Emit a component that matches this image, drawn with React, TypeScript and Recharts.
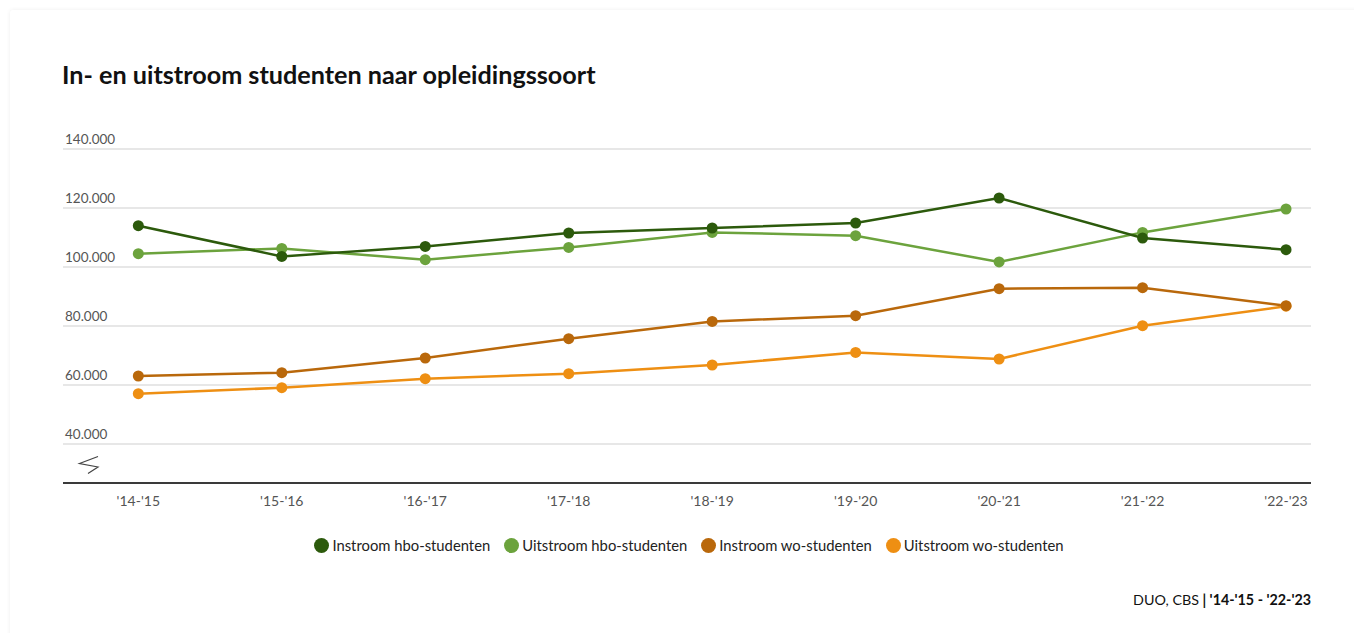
import React from "react";
import {
  LineChart,
  Line,
  XAxis,
  YAxis,
  CartesianGrid,
  Legend,
} from "recharts";

const categories = ["'14-'15", "'15-'16", "'16-'17", "'17-'18", "'18-'19", "'19-'20", "'20-'21", "'21-'22", "'22-'23"];
const instroomHbo = [114000, 103600, 106980, 111530, 113220, 114920, 123390, 109830, 105860];
const uitstroomHbo = [104500, 106300, 102470, 106650, 111730, 110610, 101700, 111730, 119660];
const instroomWo = [63050, 64170, 69150, 75700, 81560, 83490, 92640, 92980, 86880];
const uitstroomWo = [57050, 59080, 62140, 63830, 66780, 71050, 68810, 80100, 86700];
const yTicks = [40000, 60000, 80000, 100000, 120000, 140000];

const series = [
  { key: "instroomHbo", name: "Instroom hbo-studenten", color: "#2c5a0c" },
  { key: "uitstroomHbo", name: "Uitstroom hbo-studenten", color: "#6ca33d" },
  { key: "instroomWo", name: "Instroom wo-studenten", color: "#b9680b" },
  { key: "uitstroomWo", name: "Uitstroom wo-studenten", color: "#ee8f13" },
];

const data = categories.map((c, i) => ({
  i,
  cat: c,
  instroomHbo: instroomHbo[i],
  uitstroomHbo: uitstroomHbo[i],
  instroomWo: instroomWo[i],
  uitstroomWo: uitstroomWo[i],
}));

const FONT = "Lato, 'Noto Sans', sans-serif";

const fmtThousands = (v: number) => String(v).replace(/\B(?=(\d{3})+(?!\d))/g, ".");

const YTick = (props: any) => {
  const { y, payload } = props;
  return (
    <text x={65} y={y - 5.5} fill="#555" fontSize={13.5} fontFamily={FONT} textAnchor="start">
      {fmtThousands(payload.value)}
    </text>
  );
};

const XTick = (props: any) => {
  const { x, y, payload } = props;
  return (
    <text x={x} y={y + 23} fill="#555" fontSize={14} fontFamily={FONT} textAnchor="middle">
      {categories[payload.value]}
    </text>
  );
};

const LegendContent = () => (
  <div
    style={{
      display: "flex",
      justifyContent: "center",
      alignItems: "center",
      gap: 14,
      fontFamily: FONT,
      fontSize: 14.8,
      color: "#222",
      paddingLeft: 24,
    }}
  >
    {series.map((s) => (
      <div key={s.key} style={{ display: "flex", alignItems: "center" }}>
        <span
          style={{
            display: "inline-block",
            width: 15,
            height: 15,
            borderRadius: "50%",
            background: s.color,
            marginRight: 3,
          }}
        />
        <span>{s.name}</span>
      </div>
    ))}
  </div>
);

export default function App() {
  const drawOrder = [...series].reverse();
  return (
    <div style={{ position: "absolute", left: 0, top: 0, width: 1354, height: 633, overflow: "hidden", background: "#fff" }}>
      <div
        style={{
          position: "absolute",
          left: 10,
          top: 10,
          width: 1400,
          height: 700,
          background: "#fff",
          boxShadow: "0 0 4px rgba(0,0,0,0.07)",
          borderRadius: 3,
        }}
      />
      <div
        style={{
          position: "absolute",
          left: 62,
          top: 59,
          fontFamily: FONT,
          fontWeight: 700,
          fontSize: 25.2,
          lineHeight: "30px",
          color: "#111",
          whiteSpace: "nowrap",
        }}
      >
        In- en uitstroom studenten naar opleidingssoort
      </div>
      <div style={{ position: "absolute", left: 0, top: 0 }}>
        <LineChart
          width={1354}
          height={633}
          data={data}
          margin={{ top: 149, left: 63, right: 43, bottom: 120 }}
        >
          <CartesianGrid horizontal vertical={false} stroke="#cfcfcf" strokeWidth={1} />
          <XAxis
            dataKey="i"
            type="number"
            domain={[-0.525, 8.174]}
            ticks={[0, 1, 2, 3, 4, 5, 6, 7, 8]}
            allowDataOverflow
            height={30}
            tickSize={0}
            tickMargin={0}
            tickLine={false}
            axisLine={{ stroke: "#3a3a3a", strokeWidth: 2 }}
            tick={<XTick />}
            interval={0}
          />
          <YAxis
            type="number"
            domain={[26780, 140000]}
            ticks={yTicks}
            allowDataOverflow
            mirror
            width={60}
            axisLine={false}
            tickLine={false}
            tick={<YTick />}
            interval={0}
          />
          <Legend
            verticalAlign="middle"
            align="center"
            layout="horizontal"
            content={<LegendContent />}
            wrapperStyle={{ top: 536, left: 0, width: 1354, height: 20 }}
          />
          {drawOrder.map((s) => (
            <Line
              key={s.key}
              type="linear"
              dataKey={s.key}
              name={s.name}
              stroke={s.color}
              strokeWidth={2.5}
              dot={{ r: 5.5, fill: s.color, stroke: s.color, strokeWidth: 0 }}
              activeDot={false}
              isAnimationActive={false}
            />
          ))}
        </LineChart>
      </div>
      <svg style={{ position: "absolute", left: 0, top: 0, pointerEvents: "none" }} width={1354} height={633}>
        <path d="M98 456.5 L79.5 463.5 L98 467 L88 473.5" fill="none" stroke="#444" strokeWidth={1.2} />
      </svg>
      <div
        style={{
          position: "absolute",
          left: 0,
          top: 591,
          width: 1311,
          textAlign: "right",
          fontFamily: FONT,
          fontSize: 14.3,
          lineHeight: "18px",
          color: "#111",
        }}
      >
        DUO, CBS<span style={{ fontWeight: 700 }}> | '14-'15 - '22-'23</span>
      </div>
    </div>
  );
}
